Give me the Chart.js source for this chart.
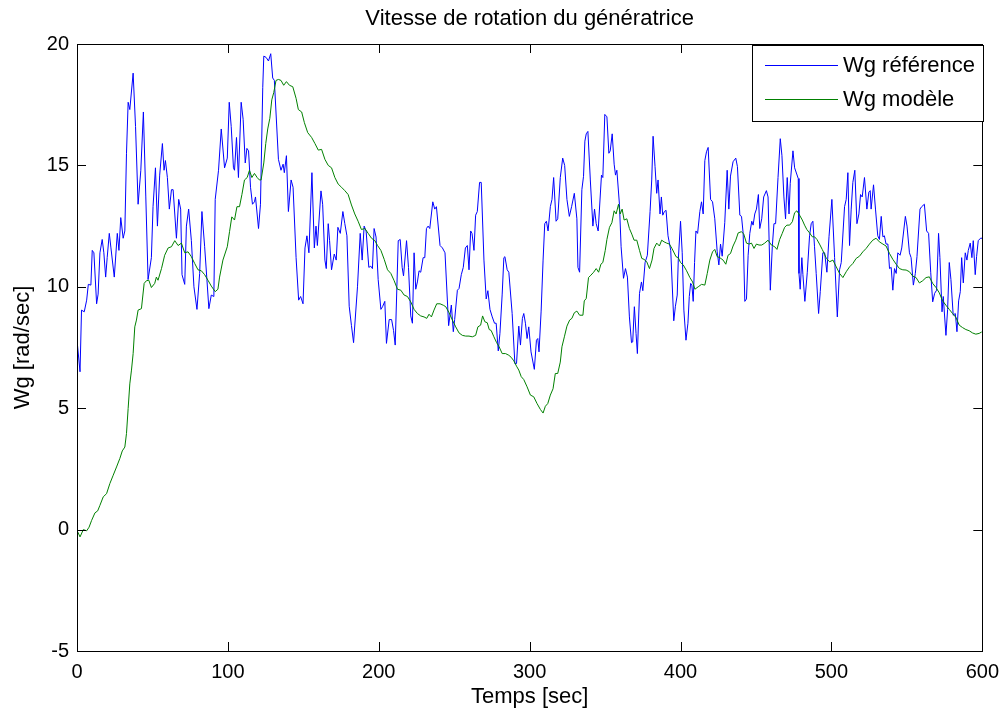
<!DOCTYPE html>
<html>
<head>
<meta charset="utf-8">
<script src="https://cdn.jsdelivr.net/npm/chart.js@4.4.0/dist/chart.umd.min.js"></script>
<style>
  html, body { margin: 0; padding: 0; background: #fff; }
  #wrap { width: 1008px; height: 718px; }
</style>
</head>
<body>
<div id="wrap"><canvas id="chart" width="1008" height="718"></canvas></div>
<script>
const chartTitle = 'Vitesse de rotation du génératrice';
const xLabel = 'Temps [sec]';
const yLabel = 'Wg [rad/sec]';
const seriesNames = ['Wg référence', 'Wg modèle'];
const xTicks = [0, 100, 200, 300, 400, 500, 600];
const yTicks = [-5, 0, 5, 10, 15, 20];

// [temps (s), vitesse (rad/s)]
const wgReference = [
  [0,7.8],[2,6.5],[3,9.04],[4.8,8.97],[6.4,9.45],[7.5,10.1],[9.2,10.07],[10.1,11.5],[11.2,11.4],[13,9.3],
  [14,9.7],[15.2,11.4],[16.7,11.95],[17.8,11.4],[19,10.4],[20,11.2],[21.4,12.2],[22.5,11.6],[24.7,10.4],[26.7,12.2],
  [27.8,11.5],[29,12.85],[30.6,12.0],[31.7,12.3],[32.8,15.5],[33.9,17.6],[35,17.3],[37.2,18.8],[38.8,16.6],[40.5,13.4],
  [42.3,14.8],[44,17.2],[45.6,13.7],[47.1,10.3],[49.3,11.2],[50.4,13.3],[52,14.9],[53.3,12.5],[54.8,14.6],[56.6,15.9],
  [57.7,14.8],[58.6,15.2],[59.9,14.5],[61.2,13.2],[62.6,14.0],[63.7,14.0],[65.9,12.0],[67.4,13.6],[68.7,13.2],[69.6,10.5],
  [71.4,10.1],[72.5,12.5],[74,13.2],[75.8,11.9],[77.5,10.0],[79.5,9.07],[81.3,10.55],[82.8,13.1],[84.6,11.65],[86.1,10.3],
  [87.4,9.1],[89,9.66],[90.7,9.6],[91.6,13.6],[93.8,14.8],[95.6,16.5],[97.8,14.9],
  [99.6,15.3],[100.9,17.6],[102.2,16.6],[103.7,14.9],[104.4,14.8],[105.7,16.15],[107,14.5],[108.8,17.6],[110.1,16.9],[111.5,15.1],
  [112.6,15.7],[113.7,15.6],[115,14.1],[116.3,13.4],[117.6,13.5],[118.3,13.7],[120.3,12.4],[121.6,13.4],[123.1,18.2],[123.8,19.5],
  [125.3,19.45],[126.9,19.3],[128.4,19.6],[129.7,18.6],[130.8,18.5],[133.5,15.25],[135.2,14.8],[136.6,15.05],[137.4,14.7],[138.8,15.4],
  [140.1,13.1],[141.9,14.4],[143.2,14.1],[145.2,11.2],[146.9,9.45],[148.2,9.6],[149.8,9.3],[151.1,11.6],[152.4,12.1],[153.7,11.4],
  [155.7,14.7],[157.3,11.6],[158.4,12.5],[159.3,11.7],[161.7,13.95],[162.8,13.4],[164.3,11.1],[165.2,10.75],[166.5,12.6],[167.4,11.9],
  [168.7,10.7],[170.5,11.35],[171.8,11.1],[172.9,12.45],[174.5,12.2],[176.2,13.1],[177.5,12.6],[178.9,12.1],[180.4,9.2],[181.9,8.4],
  [183.3,7.7],[185.9,10.0],[187.7,12.2],[189,11.1],[190.3,12.5],[191.6,12.3],[193.4,10.8],[194.7,10.85],[195.8,10.75],[196.9,12.4],
  [198.2,12.05],
  [199.6,10.3],[201.4,9.07],[202.5,9.18],[204,9.4],[205.1,7.67],[206.9,8.65],[208.5,8.65],[209.8,8.2],[210.9,7.6],[212,10.0],
  [212.9,11.9],[214.2,11.95],[215.5,10.8],[216.4,10.45],[218.4,11.9],[219.7,10.8],[221.2,8.8],[222.3,8.5],[223.4,11.4],[224.5,9.9],
  [225.6,10.2],[226.7,10.66],[227.8,10.6],[229.4,11.2],[230.5,11.2],[231.6,12.4],[232.7,12.5],[233.8,12.4],[235.8,13.5],[237.1,13.2],
  [238.2,13.3],[240.6,11.7],[242.2,11.6],[243.9,11.4],[246.3,8.4],[248.1,9.25],[249.4,8.15],[250.3,8.65],[252.1,9.86],[253.2,9.93],
  [254.7,10.5],[256,10.8],[257.4,11.6],[258.7,11.7],[259.8,10.7],[260.9,12.3],[261.8,12.2],[263.1,11.5],[264.2,12.95],[265.3,13.1],
  [266.8,14.3],[267.9,14.3],[269.7,11.1],[271.2,9.5],[272.3,9.84],[273.7,9.07],[275.2,8.76],[276.7,8.5],[277.8,8.5],[279.2,7.36],
  [280.3,8.08],[281.8,9.7],[282.9,11.2],[283.6,11.24],[285.1,10.7],[286.2,10.6],[288.4,8.9],[290.2,6.84],[291.3,6.84],[292.8,8.38],
  [293.9,7.6],[295.2,8.7],
  [296.1,8.9],[297.2,8.5],[298.3,7.87],[299.4,8.35],[300.9,7.32],[303.1,6.6],[304.5,7.8],[305.4,7.87],[306.2,7.32],[307.6,9.0],
  [308.9,11.1],[310,12.6],[311.1,12.7],[312.2,12.3],[313.7,13.3],[314.8,13.6],[315.9,14.5],[317.5,12.7],[318.6,12.8],[320.3,14.5],
  [321.9,15.3],[323.2,15.0],[324.7,13.6],[326.3,12.9],[327.8,13.3],[329.6,13.85],[331.3,12.8],[332,10.8],[333.1,10.6],[334.6,14.0],
  [335.7,14.55],[336.6,16.0],[337.5,16.3],[338.6,16.4],[340.2,14.4],[341.9,12.5],[343,13.2],[344.1,12.6],[345.4,12.3],[347.6,14.6],
  [348.5,14.5],[349.8,17.1],[351.2,17.0],[352.5,15.5],[353.4,15.6],[354.7,16.3],[356,15.05],[356.9,14.6],[357.8,14.8],[359.5,13.4],
  [360.6,11.65],[362.2,10.35],[363.5,10.75],[364.8,10.4],[366.1,8.76],[367.5,7.7],[368.3,7.73],[369.4,9.18],[370.5,8.08],[371.4,7.25],
  [372.8,9.73],[374.1,10.2],[375,9.84],[376.5,11.0],[378,11.3],[379.8,13.1],[380.9,14.4],[381.8,16.2],[383.1,14.95],[384.2,13.85],
  [385.1,14.4],[386.4,13.0],[387.3,13.7],[388.2,12.95],[389.3,13.1],[390.4,13.15],[391.7,12.1],[393.5,11.5],[395.5,8.6],[396.6,9.2],
  [397.8,9.66],
  [398.5,11.1],[400,12.7],[401.1,11.4],[402.2,9.04],[403.6,7.8],[404.9,8.5],[405.8,9.6],[406.7,10.14],[407.5,10.07],[408.4,9.4],
  [409.3,11.0],[410.2,12.3],[411.3,12.2],[412.8,13.1],[413.9,13.5],[415,13.0],[416.1,15.2],[417.2,15.56],[418.3,15.74],[419.9,13.6],
  [421.2,13.5],[422.7,12.8],[424.3,11.44],[425.4,10.9],[426.5,11.76],[427.6,11.26],[429.3,12.64],[430.9,14.8],[432,13.2],[433.1,14.56],
  [434.8,15.15],[436.6,15.3],[437.7,14.95],[439.3,12.95],[440.4,12.9],[441.5,12.2],[442.6,9.4],[443.7,9.5],[444.8,11.3],[445.9,12.2],
  [447.2,12.7],[448.1,12.54],[449.2,13.0],[450.3,13.2],[451.6,13.8],[452.5,12.4],[453.8,12.8],[455.1,13.7],[456.9,13.96],[458,13.7],
  [459.5,9.86],[460.8,11.65],[461.9,12.6],[463,12.6],[464.6,14.5],[466.1,16.1],[467.2,15.4],[468.5,13.7],[469.6,12.8],[470.7,14.5],
  [471.9,13.0],[472.7,14.26],[474.5,15.6],[475.6,14.9],[478,14.46],[478.5,10.55],[479.3,9.9],[480.4,11.2],[481.1,10.5],[482.4,9.4],
  [484,10.6],[485.5,12.1],[486.6,12.6],[487.7,12.7],[488.8,11.65],[489.9,10.55],[491.5,8.9],[492.6,9.8],[494.3,11.4],
  [495.5,11.4],[497,10.6],[498.4,12.06],[500.3,13.6],[502.1,11.2],[503.9,8.76],[505.4,10.7],[506.5,11.0],[508.7,13.3],[509.8,13.6],
  [510.9,14.7],[512,11.7],[513.1,13.2],[514.2,14.3],[515.5,14.8],[516.9,12.6],[518.2,13.0],[519.3,13.8],[520.4,13.7],[521.9,14.5],
  [523.5,13.2],[524.8,13.9],[525.7,13.96],[526.3,13.2],[527.9,14.2],[529.2,13.2],[530.7,12.1],[531.8,11.95],[533,12.9],[534.1,12.06],
  [535.1,12.1],[536.2,11.76],[537.4,11.76],[538.5,10.75],[539.6,10.8],[540.7,9.86],[541.8,10.75],[542.9,10.55],[544,11.4],[545.5,11.3],
  [546.6,11.6],[549,12.9],[550.1,12.5],[551.7,11.4],[552.8,11.2],[554.3,10.07],[555.6,10.55],[556.7,11.24],[558.7,13.2],[559.8,13.3],
  [561.6,13.4],[563.1,12.3],[564.4,12.2],[565.8,10.6],[567.1,9.38],[568.4,9.73],[569.7,9.86],[571,12.2],[571.9,11.2],[573.3,8.97],
  [574.1,9.6],[575.9,8.0],[577,9.07],[578.1,11.0],[579.2,10.3],[580.7,8.83],[582.1,8.9],[583.2,8.15],[584.3,9.42],[585.4,9.8],
  [586.3,11.2],[587.4,10.16],[588.7,11.4],[589.8,11.1],[590.7,11.5],[592,11.8],[593.1,11.2],[594,11.9],[595.3,10.5],[596.2,11.24],
  [597.3,11.9],[598.8,12.0],[600,12.0]
];

const wgModele = [
  [0,-0.03],[2,-0.3],[4.2,0],[6.4,-0.05],[8,0.1],[9.7,0.38],[11.9,0.69],[13.7,0.77],[15.2,1.0],[17.4,1.35],
  [19.6,1.48],[21.8,1.9],[24,2.24],[26.2,2.58],[28.4,2.93],[30,3.24],[31.7,3.4],[32.8,3.96],[33.9,4.99],[35,6.0],
  [36.1,6.57],[37.2,7.25],[38.3,8.35],[39.4,8.63],[40.5,9.04],[42.7,9.1],[44.5,10.14],[46,10.25],[47.6,10.27],[49.3,9.97],
  [51.5,10.14],[52.6,10.4],[53.7,10.27],[56,10.75],[58.1,11.3],[60.4,11.6],[62.6,11.65],[64.8,11.9],[67,11.7],[69.2,11.8],
  [71.4,11.4],[73.6,11.44],[75.8,11.24],[78,10.96],[80.2,10.7],[82.4,10.66],[84.6,10.5],[86.8,10.27],[89,10.03],[91.6,9.8],
  [93.4,9.9],[94.5,10.4],[96.7,11.1],
  [99.6,11.65],[101.1,12.27],[102.6,12.88],[104.4,12.75],[106,13.3],[107.7,13.3],[109.3,13.8],[111,14.4],[112.8,14.5],[114.3,14.8],
  [115.9,14.5],[117.6,14.67],[119.4,14.5],[120.9,14.4],[122,14.4],[123.8,15.1],[125.1,15.9],[126.4,16.5],[127.8,16.94],[129.1,17.7],
  [130.4,18.0],[131.9,18.5],[133.5,18.54],[135.2,18.5],[137,18.3],[138.8,18.45],[140.8,18.3],[143,18.24],[145.2,17.76],[146.7,17.3],
  [148.9,17.2],[150.7,16.76],[152.9,16.35],[155.5,16.15],[157.7,15.9],[159.9,15.63],[162.1,15.66],[164.3,15.25],[166.5,15.0],[168.7,14.9],
  [170.9,14.5],[173.1,14.23],[175.3,14.1],[177.5,13.96],[179.7,13.8],[181.9,13.37],[184.1,13.0],[186.3,12.7],[188.5,12.36],[190.8,12.4],
  [193,12.2],[195.2,12.0],[197.4,11.9],
  [199.2,11.7],[201.4,11.5],[203.6,11.13],[205.8,10.7],[208,10.55],[210.2,10.25],[212.4,9.9],[214.6,9.86],[216.8,9.66],[219,9.6],
  [221.2,9.38],[223.4,9.07],[225.6,8.9],[227.8,8.8],[230,8.76],[231.8,8.7],[233.3,8.87],[234.9,8.76],[236.6,9.04],[238.4,9.3],
  [240.6,9.3],[242.8,9.24],[244.4,9.18],[246.6,8.93],[248.8,8.63],[251,8.35],[253.2,8.1],[255.4,8.0],[257.6,7.97],[259.8,7.97],
  [262,7.94],[264.2,8.0],[265.7,8.35],[267.5,8.42],[268.8,8.8],[270.3,8.56],[271.9,8.52],[273.2,8.24],[274.5,8.2],[276.3,7.94],
  [278.1,7.7],[279.6,7.55],[281.8,7.25],[284,7.25],[286.2,7.18],[287.7,7.1],[289.5,6.95],[291.3,6.73],[292.8,6.57],[294.4,6.3],
  [296.1,6.18],[298.3,5.88],[300.5,5.54],[302.7,5.47],[304.9,5.19],[307.1,4.95],[308.9,4.8],[310.4,5.08],[312,5.19],[313.7,5.54],
  [315.5,5.8],[317,6.43],[318.6,6.43],[320.3,6.9],[321.4,7.53],[323,7.94],[324.7,8.38],[326.5,8.63],[328,8.7],[329.6,8.93],
  [331.3,9.0],[333.1,8.83],[335.3,8.83],[336.2,9.42],[337.5,9.52],[339,10.38],[340.6,10.48],[342.4,10.6],[344.1,10.75],[345.7,10.6],
  [347.2,10.93],[348.5,11.0],[350.1,11.5],[351.2,11.95],[352.9,12.45],[354.5,12.64],[356,13.13],[357.3,13.0],[358.9,13.4],[360,13.0],
  [361.3,13.2],[362.6,12.75],[364.4,12.8],[366.1,12.4],[367.7,12.17],[369.2,11.92],[371,11.92],[372.8,11.5],[374.3,11.17],[375.8,11.13],
  [377.6,11.03],[379.4,10.75],[381.1,11.1],[382.4,11.58],[384.2,11.8],[386,11.68],[387.5,11.92],[389.1,11.85],[390.8,11.8],[392.6,11.76],
  [394.3,11.58],
  [397,11.24],[398.5,11.2],[400,11.0],[401.8,10.9],[404,10.66],[406.2,10.38],[408,10.2],[409.5,9.9],[411.7,10.0],[413.9,10.1],
  [416.1,10.07],[417.7,10.55],[419.4,11.1],[421.2,11.44],[422.7,11.54],[424.3,11.24],[426,11.2],[428.2,11.1],[430,10.93],[431.5,11.3],
  [433.1,11.37],[434.8,11.68],[436.6,11.92],[438.2,12.22],[440.4,12.27],[441.9,12.17],[443.7,11.8],[445.4,11.76],[447,11.8],[448.7,11.58],
  [450.3,11.76],[452,11.72],[453.8,11.72],[455.8,11.8],[458,11.92],[460.2,11.72],[462.4,11.65],[463.9,11.54],[465.7,11.95],[467.4,12.2],
  [469,12.45],[470.5,12.54],[472.3,12.54],[474.1,12.68],[475.6,13.05],[477.1,13.13],[478.9,12.95],[480.7,12.75],[482.2,12.54],[483.7,12.36],
  [485.5,12.22],[487.3,12.06],[488.8,12.06],[490.4,11.95],[492.1,11.76],[493.9,11.54],[495.4,11.35],
  [496.6,11.17],[498.8,11.03],[501,11.1],[503.2,10.82],[505.4,10.55],[507.6,10.38],[509.8,10.62],[512,10.82],[514.2,10.96],[516.4,11.17],
  [518.6,11.26],[520.8,11.44],[523,11.58],[525.2,11.76],[527.4,11.92],[529.6,12.0],[531.8,11.85],[534.1,11.76],[536.2,11.68],[538.5,11.37],
  [540.7,11.13],[542.9,10.93],[545.1,10.75],[547.3,10.7],[549.5,10.69],[551.7,10.62],[553.9,10.44],[556.1,10.38],[558.3,10.16],[560.5,10.25],
  [562.7,10.38],[564.9,10.41],[567.1,10.14],[569.3,9.97],[571.5,9.75],[573.7,9.42],[575.9,9.24],[578.1,9.07],[580.3,8.9],[582.5,8.74],
  [584.7,8.42],[586.9,8.32],[589.1,8.24],[591.3,8.19],[593.5,8.1],[595.7,8.05],[597.9,8.08],[599.6,8.14]
];

const FONT = '"Liberation Sans", Arial, sans-serif';
const toXY = arr => arr.map(([t, v]) => ({ x: t, y: v }));

// cadre MATLAB : boite complete, graduations interieures, titre et legende
const matlabFrame = {
  id: 'matlabFrame',
  afterDraw(chart) {
    const { ctx, chartArea: a, scales: { x, y } } = chart;
    const tl = 9;
    ctx.save();
    ctx.strokeStyle = '#000';
    ctx.lineWidth = 1;
    ctx.beginPath();
    xTicks.forEach(v => {
      const px = Math.round(x.getPixelForValue(v)) + 0.5;
      ctx.moveTo(px, a.bottom); ctx.lineTo(px, a.bottom - tl);
      ctx.moveTo(px, a.top); ctx.lineTo(px, a.top + tl);
    });
    yTicks.forEach(v => {
      const py = Math.round(y.getPixelForValue(v)) + 0.5;
      ctx.moveTo(a.left, py); ctx.lineTo(a.left + tl, py);
      ctx.moveTo(a.right, py); ctx.lineTo(a.right - tl, py);
    });
    ctx.stroke();
    ctx.strokeRect(Math.round(a.left) + 0.5, Math.round(a.top) + 0.5,
      Math.round(a.right - a.left), Math.round(a.bottom - a.top));

    ctx.fillStyle = '#000';
    ctx.font = '22px ' + FONT;
    ctx.textAlign = 'center';
    ctx.textBaseline = 'middle';
    ctx.fillText(chartTitle, (a.left + a.right) / 2, 19);

    // legende
    const lx = 752, ly = 45, lw = 231, lh = 76;
    ctx.fillStyle = '#fff';
    ctx.fillRect(lx, ly, lw, lh);
    ctx.strokeRect(lx + 0.5, ly + 0.5, lw, lh);
    const colors = chart.data.datasets.map(d => d.borderColor);
    [65, 99].forEach((yy, i) => {
      ctx.strokeStyle = colors[i];
      ctx.beginPath();
      ctx.moveTo(765, yy + 0.5); ctx.lineTo(838, yy + 0.5);
      ctx.stroke();
      ctx.fillStyle = '#000';
      ctx.textAlign = 'left';
      ctx.font = '22px ' + FONT;
      ctx.fillText(seriesNames[i], 843, yy + 1);
    });
    ctx.restore();
  }
};

new Chart(document.getElementById('chart'), {
  type: 'line',
  data: {
    datasets: [
      { label: seriesNames[0], data: toXY(wgReference), borderColor: '#0000ff', borderWidth: 1, pointRadius: 0, tension: 0, order: 1 },
      { label: seriesNames[1], data: toXY(wgModele), borderColor: '#008000', borderWidth: 1, pointRadius: 0, tension: 0, order: 0 }
    ]
  },
  options: {
    responsive: false,
    animation: false,
    devicePixelRatio: 1,
    layout: { padding: { left: 0, top: 44, right: 23, bottom: 0 } },
    plugins: { legend: { display: false }, tooltip: { enabled: false }, title: { display: false } },
    scales: {
      x: {
        type: 'linear', min: 0, max: 600,
        afterFit: s => { s.height = 67; },
        afterBuildTicks: s => { s.ticks = xTicks.map(v => ({ value: v })); },
        grid: { display: false, drawTicks: false },
        border: { display: false },
        ticks: { color: '#000', font: { family: FONT, size: 20 }, padding: 9, maxRotation: 0 },
        title: { display: true, text: xLabel, color: '#000', font: { family: FONT, size: 22 }, padding: { top: 0, bottom: 8 } }
      },
      y: {
        type: 'linear', min: -5, max: 20,
        afterFit: s => { s.width = 77; },
        afterBuildTicks: s => { s.ticks = yTicks.map(v => ({ value: v })); },
        grid: { display: false, drawTicks: false },
        border: { display: false },
        ticks: { color: '#000', font: { family: FONT, size: 20 }, padding: 8 },
        title: { display: true, text: yLabel, color: '#000', font: { family: FONT, size: 22 }, padding: { top: 10, bottom: 0 } }
      }
    }
  },
  plugins: [matlabFrame]
});
</script>
</body>
</html>
